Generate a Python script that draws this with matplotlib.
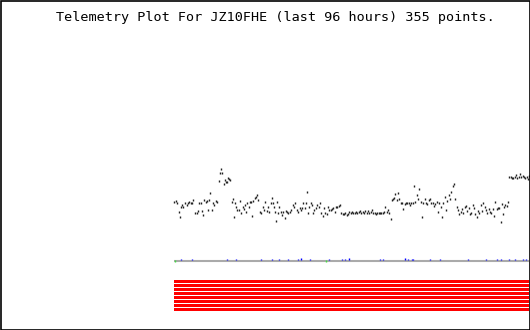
import matplotlib
matplotlib.use("Agg")
import matplotlib.pyplot as plt
from matplotlib.patches import Rectangle

# ---- data ----
title_text = "Telemetry Plot For JZ10FHE (last 96 hours) 355 points."

# telemetry samples: time in hours relative to now, value in plot units
hours = [
    -96.00, -95.55, -95.28, -94.74, -94.38, -94.11, -93.75, -93.48, -93.03, -92.58,
    -92.12, -91.85, -91.49, -91.04, -90.77, -90.23, -89.87, -89.42, -89.15, -88.79,
    -88.52, -88.07, -87.80, -87.44, -87.08, -86.90, -86.54, -86.18, -85.81, -85.54,
    -85.18, -84.73, -84.37,
    -83.92, -83.56, -83.20, -82.93, -82.57, -82.30, -82.03, -81.76, -81.40, -81.04, -80.77,
    -80.41, -80.14, -79.87, -79.50, -79.14, -78.87, -78.51, -78.15, -77.79, -77.43,
    -77.16, -76.80, -76.44, -76.17, -75.81, -75.54, -75.18, -74.82, -74.55, -74.19,
    -73.83, -73.56, -73.20, -72.74, -72.38, -72.02, -71.75, -71.39, -70.94, -70.67,
    -70.31, -69.86, -69.59, -69.32, -69.05, -68.78, -68.42, -68.15, -67.79, -67.52,
    -67.16, -66.89, -66.43, -66.07, -65.80, -65.44, -65.08, -64.63, -64.27, -63.91,
    -63.55, -63.28, -62.83, -62.47, -62.02, -61.75, -61.39, -61.03, -60.67, -60.40,
    -60.12, -59.76, -59.40, -59.04, -58.68, -58.32, -58.05, -57.69, -57.24, -56.88,
    -56.52, -56.16, -55.80, -55.44, -55.08, -54.72, -54.36, -53.99, -53.63, -53.27,
    -52.91, -52.55, -52.19, -51.83, -51.47,
    -51.11, -50.75, -50.39, -50.03, -49.67, -49.31, -48.95, -48.59, -48.23, -47.87,
    -47.50, -47.14, -46.78, -46.42, -46.06, -45.70, -45.34, -44.98, -44.62, -44.26,
    -43.90, -43.54, -43.18, -42.82, -42.46, -42.10, -41.74, -41.38, -41.01, -40.65,
    -40.29, -39.93, -39.57, -39.21, -38.85, -38.49, -38.13, -37.77, -37.41, -37.14,
    -36.87, -36.51, -36.24, -35.79, -35.43, -35.06, -34.70, -34.34, -33.98, -33.62,
    -33.26, -32.90, -32.54, -32.18, -31.82, -31.46, -31.10, -30.74, -30.38, -30.02,
    -29.66, -29.30, -28.93, -28.57, -28.21, -27.85, -27.49, -27.13, -26.77, -26.41,
    -26.05, -25.69, -25.33, -24.97, -24.61, -24.25, -23.89, -23.53, -23.17, -22.81,
    -22.45, -22.09, -21.72, -21.36, -21.00, -20.64, -20.28, -19.92, -19.56, -19.20,
    -18.84, -18.48, -18.12, -17.76, -17.40, -17.04, -16.68, -16.32, -15.96, -15.60,
    -15.24, -14.87, -14.51, -14.15, -13.79, -13.43, -13.07, -12.71, -12.35, -11.99,
    -11.63, -11.27, -10.91, -10.55, -10.19, -9.83, -9.47, -9.11, -8.75, -8.38,
    -8.02, -7.66, -7.30, -7.12, -6.76, -6.40, -6.04, -5.68,
    -5.32, -4.96, -4.60, -4.24, -3.88, -3.52, -3.15, -2.79, -2.43, -2.07,
    -1.71, -1.35, -0.99, -0.63, -0.27, -0.09,
]
values = [
    28.3, 29.3, 26.7, 18.3, 13.3, 23.3, 25.0, 23.3, 27.3, 25.0,
    27.3, 28.3, 27.3, 26.7, 30.0, 16.7, 17.3, 19.3, 27.3, 26.7,
    19.3, 15.0, 30.0, 28.3, 29.3, 20.0, 30.0, 37.3, 20.0, 26.7,
    25.0, 29.3, 28.3,
    49.3, 57.3, 61.0, 56.7, 45.7, 50.0, 47.7, 47.7, 51.7, 50.7, 50.0,
    28.3, 30.7, 13.3, 26.7, 23.3, 20.0, 20.0, 29.3, 16.7, 23.3,
    20.7, 25.0, 18.3, 27.3, 23.3, 28.3, 28.3, 14.0, 29.3, 31.7,
    33.3, 35.0, 30.0, 18.3, 16.7, 23.3, 20.0, 28.3, 19.3, 23.3,
    18.3, 26.7, 31.7, 27.3, 23.3, 18.3, 9.3, 28.3, 16.7, 23.3,
    18.3, 15.0, 18.3, 12.3, 19.0, 18.3, 16.7, 18.3, 20.0, 25.0,
    22.7, 26.7, 20.0, 18.3, 21.7, 20.0, 21.7, 26.7, 21.7, 26.7,
    38.3, 16.7, 23.3, 27.3, 25.0, 16.7, 20.0, 21.7, 25.0, 23.3,
    27.3, 16.7, 14.0, 21.7, 16.7, 16.0, 23.3, 20.0, 20.0, 20.7,
    21.7, 18.3, 23.3, 23.3, 24.0,
    25.0, 16.7, 15.7, 16.0, 16.7, 14.7, 16.0, 17.7, 16.7, 18.3,
    16.7, 17.3, 18.3, 16.7, 18.3, 19.3, 17.3, 18.3, 16.7, 19.0,
    17.3, 19.3, 16.7, 18.3, 20.0, 16.7, 17.3, 16.0, 16.7, 16.7,
    16.7, 17.3, 17.3, 18.3, 23.3, 18.3, 20.0, 16.7, 10.7, 30.0,
    30.7, 31.7, 36.0, 30.0, 37.3, 30.7, 27.3, 26.7, 21.0, 26.0,
    27.3, 27.3, 27.3, 25.0, 27.3, 26.7, 44.0, 28.3, 35.0, 30.7,
    40.7, 28.3, 13.3, 27.3, 30.7, 26.7, 26.0, 30.0, 30.7, 27.3,
    27.3, 24.0, 26.0, 28.3, 18.3, 27.3, 23.3, 13.3, 26.7, 33.3,
    20.0, 29.3, 35.0, 30.7, 38.3, 44.3, 46.0, 30.7, 23.3, 20.0,
    15.7, 18.3, 20.7, 17.3, 22.7, 24.0, 19.3, 21.7, 16.0, 16.7,
    24.7, 21.7, 16.0, 13.3, 19.3, 17.3, 25.0, 19.3, 27.3, 23.3,
    20.0, 17.3, 20.7, 18.3, 16.7, 20.7, 14.0, 28.3, 20.7, 21.7,
    21.7, 8.3, 25.7, 16.0, 23.3, 25.0, 24.0, 28.3,
    53.3, 52.7, 51.7, 51.7, 53.3, 55.0, 51.7, 52.7, 56.0, 52.7,
    54.0, 52.7, 51.7, 52.7, 50.7, 54.0,
]

# event markers along the time strip (hours)
event_hours = [-94.19, -91.05, -81.59, -79.15, -72.39, -69.42, -67.52, -65.09,
               -62.39, -61.58, -59.14, -54.00, -50.49, -49.68, -48.81, -40.37,
               -39.56, -33.45, -32.72, -31.60, -31.30, -26.69, -23.99, -16.42,
               -11.55, -8.57, -7.49, -5.33, -3.71, -1.54, -0.73]
event_level = [1, 1, 1, 1, 1, 1, 1, 1,
               1, 2, 1, 1, 1, 1, 2, 1,
               1, 2, 1, 1, 1, 1, 1, 1,
               1, 1, 1, 1, 1, 1, 1]
day_marks = [-95.73, -54.98]

# status channels (all fully on over the window)
status_channels = [0, 1, 2, 3, 4, 5, 6, 7]
status_start = [-96, -96, -96, -96, -96, -96, -96, -96]
status_end = [0, 0, 0, 0, 0, 0, 0, 0]

# ---- figure ----
W, H = 530, 330
fig = plt.figure(figsize=(W / 100, H / 100), dpi=100)
fig.patch.set_facecolor("white")

def px_axes(x0, y0, x1, y1):
    ax = fig.add_axes([x0 / W, 1 - y1 / H, (x1 - x0) / W, (y1 - y0) / H])
    ax.set_axis_off()
    return ax

# scatter area
ax = px_axes(174, 150, 529, 230)
ax.set_xlim(-96, 0)
ax.set_ylim(0, 80)
ax.plot(hours, values, linestyle="none", marker="|", markersize=1.6,
        markeredgewidth=1.0, color="#222222", clip_on=False)

# event strip
ax2 = px_axes(174, 255, 529, 263)
ax2.set_xlim(-96, 0)
ax2.set_ylim(0, 8)
ax2.plot([-96, 0], [2.3, 2.3], color="#aaaaaa", linewidth=1.5,
         solid_capstyle="butt")
ax2.vlines(event_hours, 3.3, [3.3 + 1.1 * l for l in event_level],
           color="#0000ff", linewidth=1.0)
ax2.vlines(day_marks, 1.3, 3.3, color="#44dd44", linewidth=1.0)

# status band
ax3 = px_axes(174, 280, 529, 312)
ax3.set_xlim(-96, 0)
ax3.set_ylim(8, 0)
for ch, s, e in zip(status_channels, status_start, status_end):
    ax3.broken_barh([(s, e - s)], (ch, 0.75), facecolor="#ff0000",
                    edgecolor="none", antialiased=False)

# title
fig.text(275 / W, 1 - 17 / H, title_text, ha="center", va="center",
         family="DejaVu Sans Mono", fontsize=9.7, color="black")

# border around image
fig.patches.append(Rectangle((0.5 / W, 0.5 / H), (W - 1) / W, (H - 1) / H,
                             transform=fig.transFigure, fill=False,
                             edgecolor="black", linewidth=1.2))

fig.savefig("out.png", dpi=100)
